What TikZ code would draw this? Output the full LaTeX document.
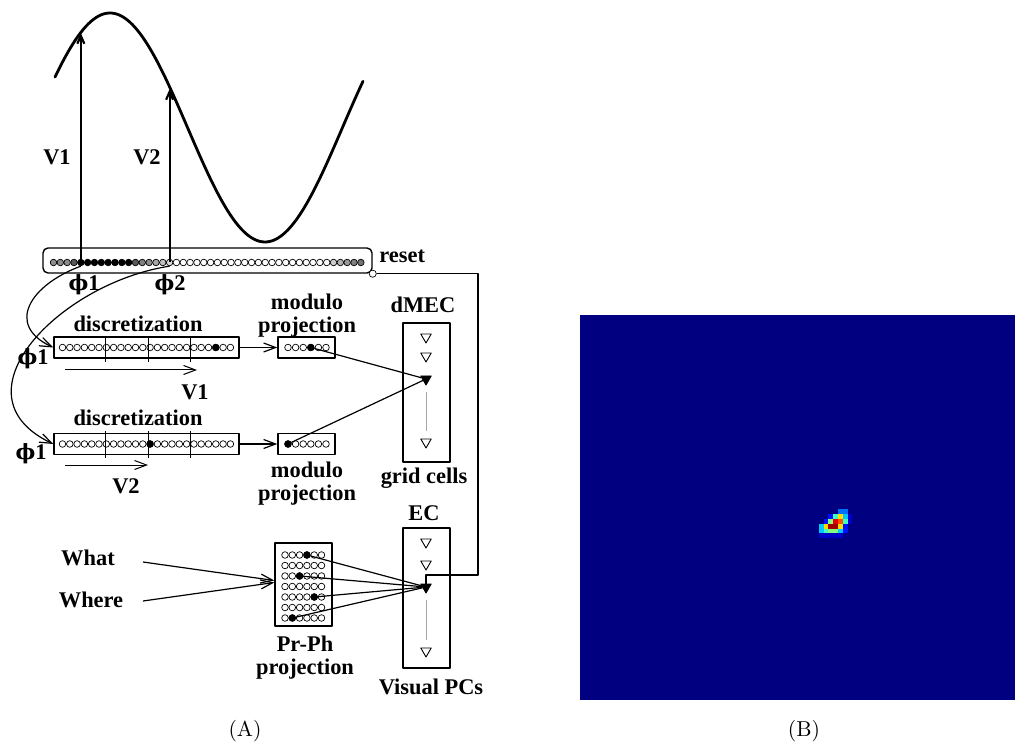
\documentclass[tikz,border=0pt]{standalone}
\usepackage{fontspec}
\newfontfamily\tnr{Liberation Serif}
\newfontfamily\phfont{DejaVu Serif}
\newcommand{\ph}{{\phfont\fontsize{10.5}{10}\selectfont ϕ}}
\usetikzlibrary{arrows.meta,shapes.geometric}
\definecolor{jnavy}{RGB}{0,0,128}
\definecolor{jdim}{RGB}{0,0,200}
\definecolor{jblue}{RGB}{0,16,255}
\definecolor{jlb}{RGB}{0,110,255}
\definecolor{jcyan}{RGB}{0,200,255}
\definecolor{jcg}{RGB}{64,255,190}
\definecolor{jgreen}{RGB}{130,255,125}
\definecolor{jyel}{RGB}{255,220,0}
\definecolor{jora}{RGB}{255,80,0}
\definecolor{jred}{RGB}{230,0,0}
\definecolor{jdred}{RGB}{160,0,0}

\tikzset{
  lbl/.style={font=\tnr\bfseries\fontsize{11.2}{11.5}\selectfont, inner sep=0pt, align=center},
  bx/.style={draw, line width=0.7pt, inner sep=0pt},
  cell/.style={circle, draw, line width=0.35pt, fill=white, minimum size=3.3pt, inner sep=0pt},
  dot/.style={cell, fill=black},
  neu/.style={regular polygon, regular polygon sides=3, shape border rotate=180, draw, line width=0.45pt, minimum size=6pt, inner sep=0pt},
  neuon/.style={neu, fill=black},
  wire/.style={line width=0.6pt},
}

\begin{document}
\begin{tikzpicture}[x=0.5pt, y=-0.5pt, line join=round, >={Straight Barb[length=6pt,width=4.5pt]}]
\useasboundingbox (0,0) rectangle (1015,742);

% phase wave
\draw[line width=1.4pt, line cap=round] plot[domain=55:363, samples=120, smooth] (\x,{127.5-114.5*cos(1.16129*(\x-110))});

% ring of phase cells
\node[bx, rounded corners=2.5pt, minimum width=164.5pt, minimum height=12.5pt] (bar) at (207.5,260.5) {};
\foreach \i/\g in {0/45,1/45,2/45,3/65,4/100,5/100,6/100,7/100,8/100,9/100,10/100,11/100,
    12/65,13/50,14/45,15/35,16/25,17/15,18/0,19/0,20/0,21/0,22/0,23/0,24/0,25/0,26/0,27/0,
    28/0,29/0,30/0,31/0,32/0,33/0,34/0,35/0,36/0,37/0,38/0,39/0,40/0,41/20,42/30,43/40,44/50,45/55}
  \node[cell, fill=black!\g] (b\i) at ({53.5+6.83*\i},262.5) {};
\node[cell, minimum size=3.6pt] (rst) at (bar.south east) {};
\node[lbl, anchor=west] (resetlbl) at (379,256) {reset};

\coordinate (v1) at (b4 |- 0,33);
\coordinate (v2) at (b17 |- 0,89);
\draw[line width=1.1pt, -{Straight Barb[length=4pt,width=3.5pt]}] (b4.center) -- (v1);
\draw[line width=1.1pt, -{Straight Barb[length=4pt,width=3.5pt]}] (b17.center) -- (v2);
\node[lbl] (V1) at (57,157) {V1};
\node[lbl] (V2) at (147,157) {V2};
\node[lbl] (ph1) at (84,285) {\ph1};
\node[lbl] (ph2) at (170,285) {\ph2};

% discretization rows
\node[bx, minimum width=92.5pt, minimum height=10.5pt] (disc1) at (146.5,347.5) {};
\foreach \i in {0,...,23} \node[cell] (da\i) at ({62.5+7.3*\i},347.5) {};
\node[dot] at (da21) {};
\foreach \x in {105,148,190} \draw[line width=0.45pt] (\x,337) -- (\x,362);
\node[lbl] (dl1) at (138,324) {discretization};
\node[lbl] (ps1) at (33,359) {\ph1};
\coordinate (s1a) at (65,370);
\coordinate (s1b) at (197,370);
\draw[->, line width=0.5pt] (s1a) -- (s1b);
\node[lbl] (sv1) at (195,392) {V1};

\node[bx, minimum width=92.5pt, minimum height=10.5pt] (disc2) at (146.5,444) {};
\foreach \i in {0,...,23} \node[cell] (db\i) at ({62.5+7.3*\i},444) {};
\node[dot] at (db12) {};
\foreach \x in {105,148,190} \draw[line width=0.45pt] (\x,431) -- (\x,458);
\node[lbl] (dl2) at (138,418) {discretization};
\node[lbl] (ps2) at (31,454) {\ph1};
\coordinate (s2a) at (65,465);
\coordinate (s2b) at (148,465);
\draw[->, line width=0.5pt] (s2a) -- (s2b);
\node[lbl] (sv2) at (126,486) {V2};

% phase read-out
\draw[wire, ->] (b4.south) .. controls (30,285) and (5,325) .. (disc1.west);
\draw[wire, ->] (b17.south) .. controls (60,283) and (-50,395) .. (disc2.west);

% modulo projections
\node[bx, minimum width=28.5pt, minimum height=10.5pt] (mod1) at (306.5,347.5) {};
\foreach \i in {0,...,5} \node[cell] (ma\i) at ({288+7.6*\i},347.5) {};
\node[dot] at (ma3) {};
\node[lbl] (ml1) at (307,316) {modulo\\projection};
\node[bx, minimum width=28.5pt, minimum height=10.5pt] (mod2) at (306.5,444) {};
\foreach \i in {0,...,5} \node[cell] (mb\i) at ({288+7.6*\i},444) {};
\node[dot] at (mb0) {};
\node[lbl] (ml2) at (307,484) {modulo\\projection};
\draw[wire, ->] (disc1) -- (mod1);
\draw[wire, ->] (disc2) -- (mod2);

% dMEC grid cells
\node[bx, minimum width=23.5pt, minimum height=69.5pt] (dmec) at (426.5,392.5) {};
\node[lbl] (dmecl) at (423,305) {dMEC};
\node[lbl] (gridl) at (424,478) {grid cells};
\node[neu] (g1) at (426,337) {};
\node[neu] (g2) at (426,356) {};
\node[neuon] (g3) at (426,379) {};
\node[neu] (g4) at (426,442) {};
\draw[black!35, line width=0.5pt, shorten <=3pt, shorten >=4pt] (g3) -- (g4);
\draw[wire] (ma3) -- (g3);
\draw[wire] (mb0) -- (g3);

% EC visual place cells
\node[bx, minimum width=23.5pt, minimum height=70pt] (ec) at (426.5,598) {};
\node[lbl] (ecl) at (424,513) {EC};
\node[lbl] (vpcl) at (431,687) {Visual PCs};
\node[neu] (p1) at (426,542) {};
\node[neu] (p2) at (426,564) {};
\node[neuon] (p3) at (426,587) {};
\node[neu] (p4) at (426,651) {};
\draw[black!35, line width=0.5pt, shorten <=3pt, shorten >=4pt] (p3) -- (p4);

% reset loop
\coordinate (rturn) at (478,575);
\draw[wire] (rst) -| (rturn) -| (p3);

% Pr-Ph projection
\node[bx, minimum width=28.5pt, minimum height=41.5pt] (prph) at (303.5,584.5) {};
\foreach \j in {0,...,6}
  \foreach \i in {0,...,5}
    \node[cell] (pp\j-\i) at ({285+7.3*\i},{555+10.5*\j}) {};
\foreach \k in {0-3,2-2,4-4,6-1} {
  \node[dot] at (pp\k) {};
  \draw[wire] (pp\k) -- (p3);
}
\node[lbl] (prl) at (305,658) {Pr-Ph\\projection};
\node[lbl] (what) at (88,558) {What};
\node[lbl] (where) at (91,600) {Where};
\coordinate (wa) at (143,562);
\coordinate (wb) at (143,601);
\draw[wire, ->] (wa) -- ([yshift=2pt]prph.west);
\draw[wire, ->] (wb) -- ([yshift=1pt]prph.west);

% (B) place field
\fill[jnavy] (580,315) rectangle (1015,700);
\foreach \c/\r/\col in {4/0/jlb,5/0/jlb,
    2/1/jblue,3/1/jcg,4/1/jyel,5/1/jcyan,6/1/jdim,
    1/2/jblue,2/2/jgreen,3/2/jred,4/2/jora,5/2/jcg,6/2/jdim,
    0/3/jcyan,1/3/jyel,2/3/jdred,3/3/jdred,4/3/jyel,5/3/jblue,
    0/4/jcyan,1/4/jcg,2/4/jgreen,3/4/jgreen,4/4/jcyan,5/4/jblue,
    0/5/jdim,1/5/jdim,2/5/jdim,3/5/jdim,4/5/jdim}
  \fill[\col] ({818.7+4.8*\c},{509.3+4.8*\r}) rectangle ++(4.8,4.8);

\node[font=\fontsize{10.8}{12}\selectfont, inner sep=0pt] (capA) at (245,731) {(A)};
\node[font=\fontsize{10.8}{12}\selectfont, inner sep=0pt] (capB) at (804,731) {(B)};
\end{tikzpicture}
\end{document}
